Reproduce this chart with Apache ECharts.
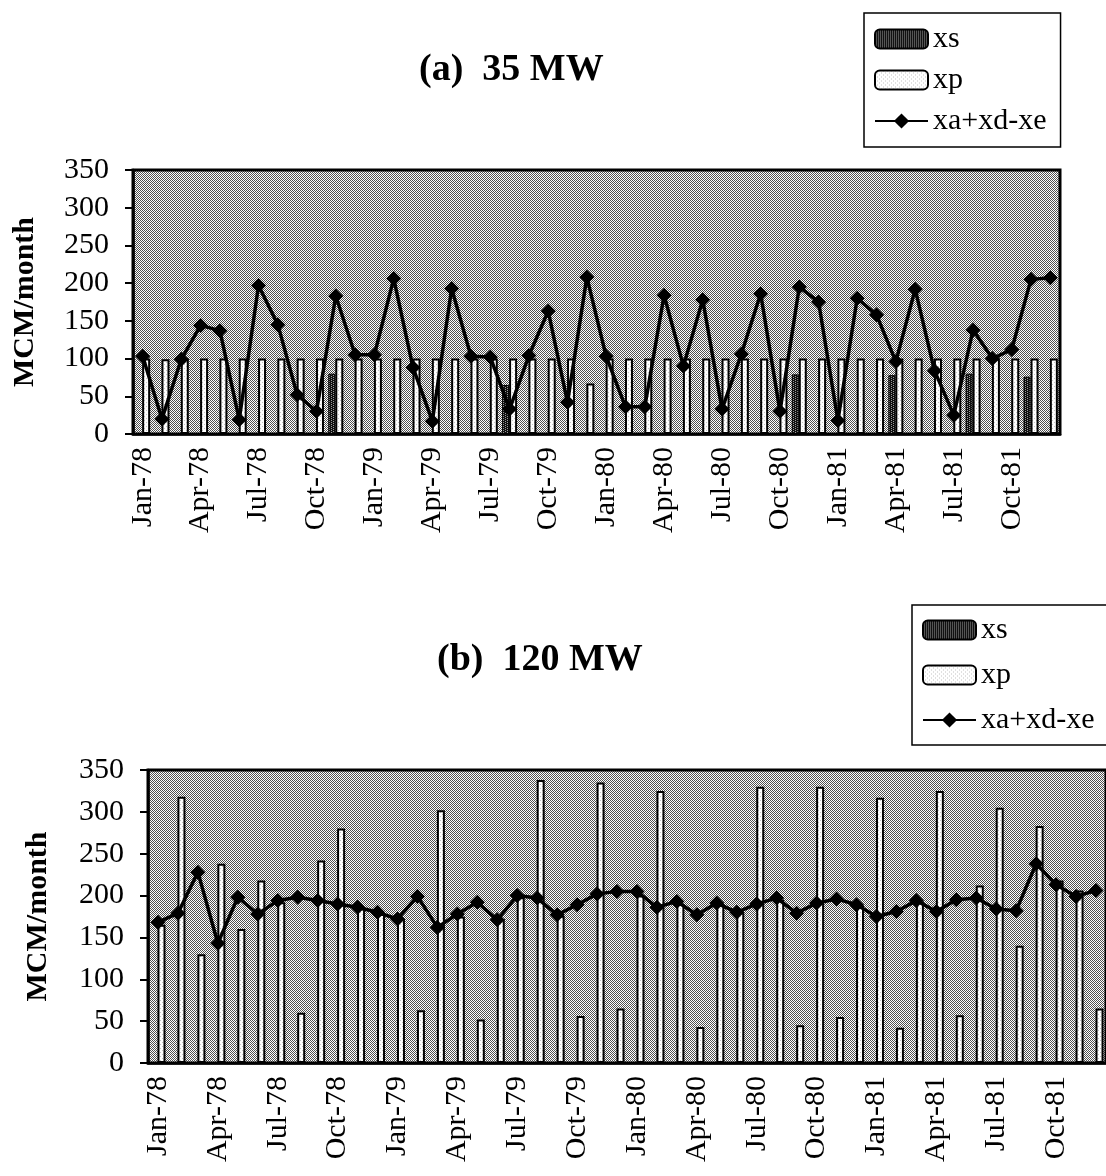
<!DOCTYPE html>
<html>
<head>
<meta charset="utf-8">
<title>xs / xp / xa+xd-xe</title>
<script src="https://cdn.jsdelivr.net/npm/echarts@6/dist/echarts.min.js"></script>
<style>
  html, body { margin: 0; padding: 0; background: #fff; }
  #chart { width: 1106px; height: 1176px; }
</style>
</head>
<body>
<div id="chart"></div>
<script>
var months = [
  'Jan-78','Feb-78','Mar-78','Apr-78','May-78','Jun-78','Jul-78','Aug-78','Sep-78','Oct-78','Nov-78','Dec-78',
  'Jan-79','Feb-79','Mar-79','Apr-79','May-79','Jun-79','Jul-79','Aug-79','Sep-79','Oct-79','Nov-79','Dec-79',
  'Jan-80','Feb-80','Mar-80','Apr-80','May-80','Jun-80','Jul-80','Aug-80','Sep-80','Oct-80','Nov-80','Dec-80',
  'Jan-81','Feb-81','Mar-81','Apr-81','May-81','Jun-81','Jul-81','Aug-81','Sep-81','Oct-81','Nov-81','Dec-81'
];

// (a) 35 MW
var xsA = [0,0,0,0,0,0,0,0,0,0,80,0, 0,0,0,0,0,0,0,65,0,0,0,0, 0,0,0,0,0,0,0,0,0,0,79,0, 0,0,0,78,0,0,0,80,0,0,76,0];
var xpA = [100,99,100,100,100,100,100,100,100,100,100,100, 100,100,100,100,100,100,100,100,100,100,100,67,
           100,100,100,100,100,100,100,100,100,100,100,100, 100,100,100,100,100,100,100,100,100,100,100,100];
var netA = [103,20,99,144,137,19,197,145,52,30,183,105, 105,206,88,17,193,103,102,33,104,163,42,208,
            103,36,36,184,90,178,33,106,186,30,195,175, 18,180,158,96,192,84,25,138,100,112,205,207];

// (b) 120 MW
var xsB = [0,0,0,0,0,0,0,0,0,0,0,0, 0,0,0,0,0,0,0,0,0,0,0,0, 0,0,0,0,0,0,0,0,0,0,0,0, 0,0,0,0,0,0,0,0,0,0,0,0];
var xpB = [165,318,130,238,160,218,192,60,242,280,185,178, 172,63,302,175,52,172,198,338,176,56,335,65,
           200,325,190,43,190,180,330,195,45,330,55,188, 317,42,193,325,57,212,305,140,283,218,206,65];
var netB = [168,179,228,143,198,178,194,198,194,190,186,180, 172,199,162,178,192,171,200,197,177,189,202,205,
            205,186,193,177,191,180,190,197,179,191,196,189, 175,181,194,181,195,197,184,182,238,213,199,206];

var FONT = 'Liberation Serif';

function stipple(rows, ink, paper) {
  var c = document.createElement('canvas');
  c.width = rows[0].length;
  c.height = rows.length;
  var g = c.getContext('2d');
  g.fillStyle = paper;
  g.fillRect(0, 0, c.width, c.height);
  g.fillStyle = ink;
  rows.forEach(function(r, y) {
    for (var x = 0; x < r.length; x++) if (r[x] === '1') g.fillRect(x, y, 1, 1);
  });
  return { image: c, repeat: 'repeat' };
}

var plotFill = stipple(['1010', '0101', '1010', '0101'], '#505050', '#ffffff');
var xsFill = stipple(['1110', '1011', '1110', '1011'], '#111111', '#9a9a9a');
var xpFill = stipple(['1000', '0000', '0010', '0000'], '#c4c4c4', '#ffffff');

var tickText = { fontFamily: FONT, fontSize: 30, color: '#000' };

function xAxisFor(idx) {
  return {
    type: 'category', gridIndex: idx, data: months,
    axisLine: { lineStyle: { color: '#000', width: 2.5 } },
    axisTick: { interval: 0, length: 9, lineStyle: { color: '#000', width: 1.5 } },
    axisLabel: Object.assign({ interval: 2, rotate: 90, margin: 13 }, tickText),
    splitLine: { show: false }
  };
}

function yAxisFor(idx, gap) {
  return {
    type: 'value', gridIndex: idx, min: 0, max: 350, interval: 50,
    name: 'MCM/month', nameLocation: 'middle', nameRotate: 90, nameGap: gap,
    nameTextStyle: { fontFamily: FONT, fontSize: 30, fontWeight: 'bold', color: '#000' },
    axisLine: { show: true, lineStyle: { color: '#000', width: 2.5 } },
    axisTick: { show: true, length: 8, lineStyle: { color: '#000', width: 2 } },
    axisLabel: Object.assign({ margin: 24 }, tickText),
    splitLine: { show: false }
  };
}

function seriesFor(idx, xs, xp, net) {
  return [
    { name: 'xs', type: 'bar', xAxisIndex: idx, yAxisIndex: idx, data: xs,
      barWidth: 7, barGap: '0%',
      itemStyle: { color: xsFill, borderColor: '#000', borderWidth: 1 } },
    { name: 'xp', type: 'bar', xAxisIndex: idx, yAxisIndex: idx, data: xp,
      barWidth: 8, barGap: '0%',
      itemStyle: { color: xpFill, borderColor: '#000', borderWidth: 2 } },
    { name: 'xa+xd-xe', type: 'line', xAxisIndex: idx, yAxisIndex: idx, data: net,
      symbol: 'diamond', symbolSize: 15, showAllSymbol: true, z: 5,
      lineStyle: { color: '#000', width: 3.5 },
      itemStyle: { color: '#000' } }
  ];
}

function legendFor(left, top, gap, pad) {
  return {
    orient: 'vertical', left: left, top: top,
    data: ['xs', 'xp', 'xa+xd-xe'],
    itemWidth: 53, itemHeight: 19, itemGap: gap, padding: pad,
    borderColor: '#000', borderWidth: 1.5, selectedMode: false,
    textStyle: { fontFamily: FONT, fontSize: 30, color: '#000' }
  };
}

var titleText = { fontFamily: FONT, fontSize: 38, fontWeight: 'bold', color: '#000' };

var chart = echarts.init(document.getElementById('chart'));
chart.setOption({
  animation: false,
  backgroundColor: '#fff',
  title: [
    { text: '(a)  35 MW', left: 414, top: 46, textStyle: titleText },
    { text: '(b)  120 MW', left: 432, top: 636, textStyle: titleText }
  ],
  legend: [
    legendFor(864, 13, 11, [11, 14, 11, 10]),
    legendFor(912, 605, 15, [10, 30, 10, 10])
  ],
  grid: [
    { left: 133, top: 170, width: 927, height: 264, show: true,
      backgroundColor: plotFill, borderColor: '#000', borderWidth: 3 },
    { left: 148, top: 770, width: 964, height: 293, show: true,
      backgroundColor: plotFill, borderColor: '#000', borderWidth: 3 }
  ],
  xAxis: [xAxisFor(0), xAxisFor(1)],
  yAxis: [yAxisFor(0, 93), yAxisFor(1, 95)],
  series: seriesFor(0, xsA, xpA, netA).concat(seriesFor(1, xsB, xpB, netB))
});
</script>
</body>
</html>
